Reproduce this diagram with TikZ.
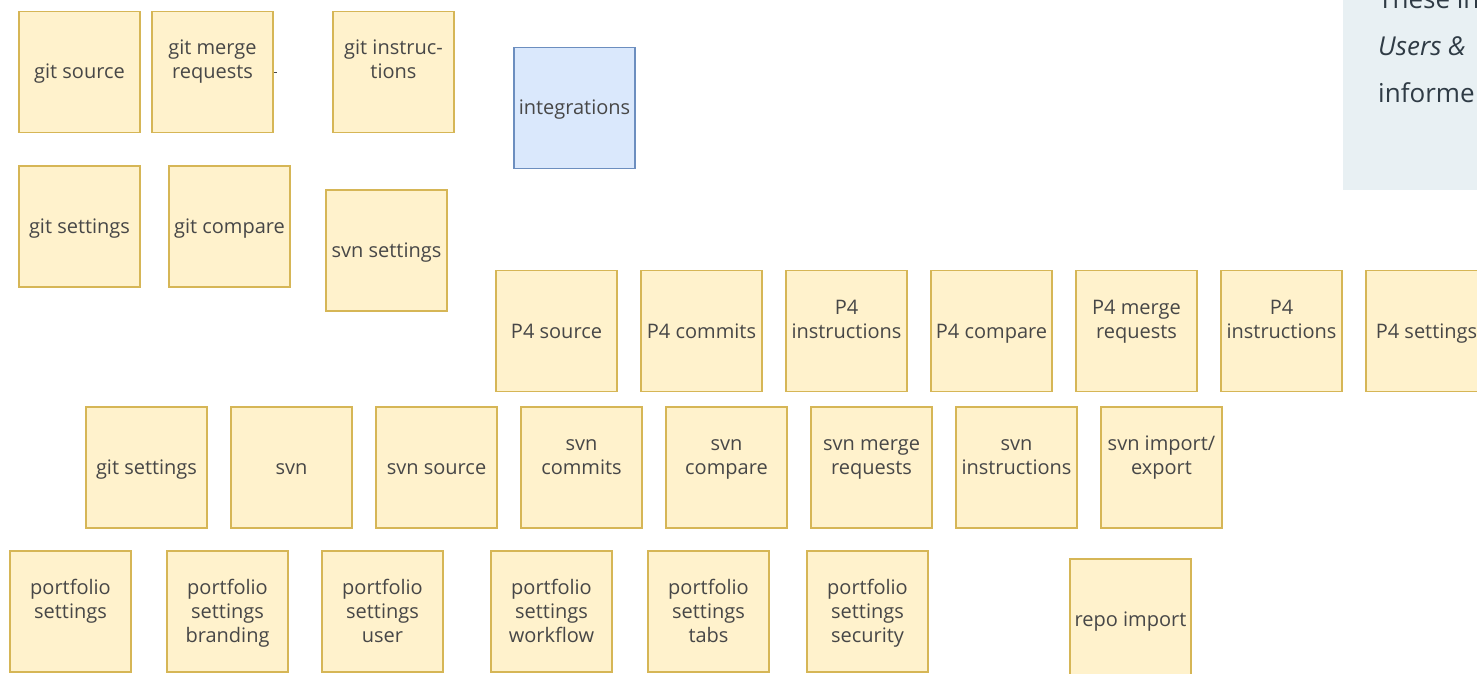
\documentclass[tikz,border=0pt]{standalone}
\usepackage{fontspec}
\setmainfont{Open Sans}
\definecolor{stfill}{HTML}{FFF2CC}
\definecolor{stdraw}{HTML}{D6B656}
\definecolor{blfill}{HTML}{DAE8FC}
\definecolor{bldraw}{HTML}{6C8EBF}
\definecolor{notefill}{HTML}{E8F0F3}
\definecolor{txt}{HTML}{474747}
\definecolor{notetxt}{HTML}{2F3B45}
\tikzset{
  sticky/.style={draw=stdraw, fill=stfill, line width=1.2pt, minimum width=121pt, minimum height=121pt, inner sep=0pt, rectangle},
  bluebox/.style={sticky, draw=bldraw, fill=blfill},
  lbl/.style={align=center, inner sep=0pt, anchor=base, text=txt, font=\fontsize{20}{24}\selectfont},
  one/.style={lbl, yshift=-7pt},
  multi/.style={lbl, yshift=-7pt},
  three/.style={lbl, yshift=-31pt},
  notetext/.style={anchor=base west, inner sep=0pt, text=notetxt, font=\fontsize{26}{30}\selectfont}
}
\begin{document}
\begin{tikzpicture}[x=1pt,y=-1pt]
\useasboundingbox (0,0) rectangle (1477,674);
\clip (0,0) rectangle (1477,674);
% note box
\fill[notefill] (1343,-10) rectangle (1490,190);
\node[notetext] (n1) at (1378,9) {These in};
\node[notetext] (n2) at (1378,56) {\itshape Users \&};
\node[notetext] (n3) at (1378,103) {informe};
% row 1
\node[sticky] (gs) at (79.5,72) {};
\node[one] at (gs.center) {git source};
\node[sticky] (gm) at (212.5,72) {};
\node[multi] at (gm.center) {git merge\\requests};
\coordinate (gmt) at ([xshift=3pt]gm.east);
\draw[txt, line width=0.6pt] (gm.east) -- (gmt);
\node[sticky] (gi) at (393.5,72) {};
\node[multi] at (gi.center) {git instruc-\\tions};
\node[bluebox] (int) at (574.5,108) {};
\node[one] at (int.center) {integrations};
% row 2
\node[sticky] (gset) at (79.5,226.5) {};
\node[one] at (gset.center) {git settings};
\node[sticky] (gc) at (229.5,226.5) {};
\node[one] at (gc.center) {git compare};
\node[sticky] (ss) at (386.5,250.5) {};
\node[one] at (ss.center) {svn settings};
% row 3
\node[sticky] (p1) at (556.5,331) {};
\node[one] at (p1.center) {P4 source};
\node[sticky] (p2) at (701.5,331) {};
\node[one] at (p2.center) {P4 commits};
\node[sticky] (p3) at (846.5,331) {};
\node[multi] at (p3.center) {P4\\instructions};
\node[sticky] (p4) at (991.5,331) {};
\node[one] at (p4.center) {P4 compare};
\node[sticky] (p5) at (1136.5,331) {};
\node[multi] at (p5.center) {P4 merge\\requests};
\node[sticky] (p6) at (1281.5,331) {};
\node[multi] at (p6.center) {P4\\instructions};
\node[sticky] (p7) at (1426.5,331) {};
\node[one] at (p7.center) {P4 settings};
% row 4
\node[sticky] (s1) at (146.5,467.5) {};
\node[one] at (s1.center) {git settings};
\node[sticky] (s2) at (291.5,467.5) {};
\node[one] at (s2.center) {svn};
\node[sticky] (s3) at (436.5,467.5) {};
\node[one] at (s3.center) {svn source};
\node[sticky] (s4) at (581.5,467.5) {};
\node[multi] at (s4.center) {svn\\commits};
\node[sticky] (s5) at (726.5,467.5) {};
\node[multi] at (s5.center) {svn\\compare};
\node[sticky] (s6) at (871.5,467.5) {};
\node[multi] at (s6.center) {svn merge\\requests};
\node[sticky] (s7) at (1016.5,467.5) {};
\node[multi] at (s7.center) {svn\\instructions};
\node[sticky] (s8) at (1161.5,467.5) {};
\node[multi] at (s8.center) {svn import/\\export};
% row 5
\node[sticky] (f1) at (70.5,611.5) {};
\node[multi] at (f1.center) {portfolio\\settings};
\node[sticky] (f2) at (227.5,611.5) {};
\node[three] at (f2.center) {portfolio\\settings\\branding};
\node[sticky] (f3) at (382.5,611.5) {};
\node[three] at (f3.center) {portfolio\\settings\\user};
\node[sticky] (f4) at (551.5,611.5) {};
\node[three] at (f4.center) {portfolio\\settings\\workflow};
\node[sticky] (f5) at (708.5,611.5) {};
\node[three] at (f5.center) {portfolio\\settings\\tabs};
\node[sticky] (f6) at (867.5,611.5) {};
\node[three] at (f6.center) {portfolio\\settings\\security};
\node[sticky] (ri) at (1130.5,619.5) {};
\node[one] at (ri.center) {repo import};
\end{tikzpicture}
\end{document}
